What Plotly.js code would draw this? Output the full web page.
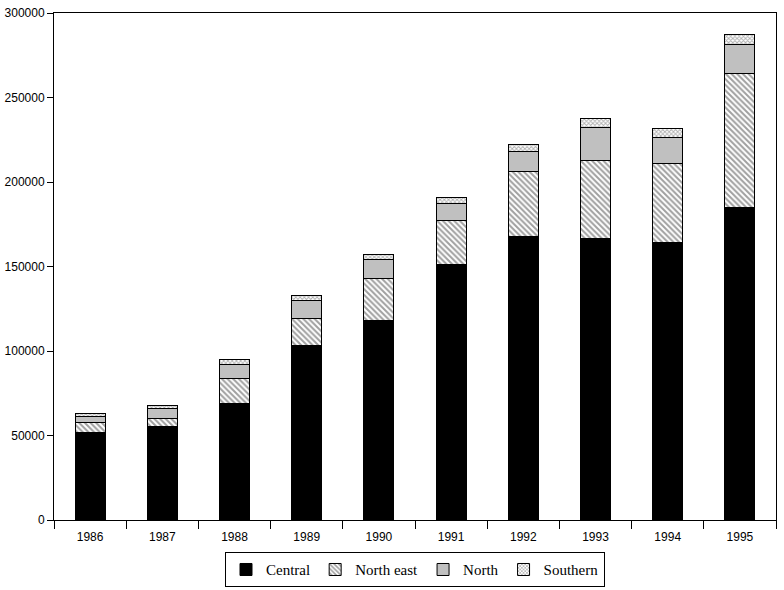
<!DOCTYPE html>
<html>
<head>
<meta charset="utf-8">
<script src="https://cdn.plot.ly/plotly-3.0.1.min.js"></script>
<style>html,body{margin:0;padding:0;background:#fff;}#chart{width:784px;height:590px;}</style>
</head>
<body>
<div id="chart"></div>
<script>
const years = ["1986","1987","1988","1989","1990","1991","1992","1993","1994","1995"];
const central   = [51500, 55600, 69200, 103000, 117800, 151000, 168000, 166300, 164000, 185000];
const northEast = [5900, 4200, 14800, 16300, 25200, 26000, 38500, 46500, 47000, 79300];
const north     = [4100, 5900, 8300, 10700, 11300, 10000, 11700, 19700, 15600, 17200];
const southern  = [1800, 2300, 2400, 3000, 2900, 4000, 3700, 4800, 4800, 5500];
const yTicks = [0, 50000, 100000, 150000, 200000, 250000, 300000];

const line = {color: "#000", width: 1};
const traces = [
  {name: "Central", x: years, y: central, type: "bar",
   marker: {color: "#000", line: line}},
  {name: "North east", x: years, y: northEast, type: "bar",
   marker: {color: "#ffffff", line: line,
            pattern: {shape: "\\", fgcolor: "#a0a0a0", bgcolor: "#ffffff", size: 4, solidity: 0.5}}},
  {name: "North", x: years, y: north, type: "bar",
   marker: {color: "#c0c0c0", line: line}},
  {name: "Southern", x: years, y: southern, type: "bar",
   marker: {color: "#ffffff", line: line,
            pattern: {shape: "x", fgcolor: "#b0b0b0", bgcolor: "#ffffff", size: 3, solidity: 0.5}}}
];

const layout = {
  width: 784, height: 590,
  margin: {l: 54, r: 8, t: 13, b: 70, autoexpand: false},
  paper_bgcolor: "#fff", plot_bgcolor: "#fff",
  barmode: "stack",
  bargap: 0.585,
  font: {family: "Liberation Sans, Arial, sans-serif", size: 12, color: "#000"},
  showlegend: true,
  legend: {orientation: "h", x: 0.5, xref: "paper", xanchor: "center",
           yref: "container", y: 0.064, yanchor: "top",
           traceorder: "normal", bordercolor: "#000", borderwidth: 1, bgcolor: "#fff",
           font: {family: "Liberation Serif, Times New Roman, serif", size: 15, color: "#000"},
           itemwidth: 30, tracegroupgap: 0},
  xaxis: {type: "category", showline: true, linecolor: "#000", linewidth: 1, mirror: true,
          ticks: "outside", tickson: "boundaries", ticklen: 8, tickcolor: "#000",
          ticklabelstandoff: 6,
          showgrid: false, zeroline: false, tickfont: {size: 12}},
  yaxis: {range: [0, 300000], tickvals: yTicks, ticktext: yTicks.map(String),
          showline: true, linecolor: "#000", linewidth: 1, mirror: true,
          ticks: "outside", ticklen: 6, tickcolor: "#000",
          showgrid: false, zeroline: false, tickfont: {size: 12}}
};

Plotly.newPlot("chart", traces, layout, {displayModeBar: false, staticPlot: true});
</script>
</body>
</html>
